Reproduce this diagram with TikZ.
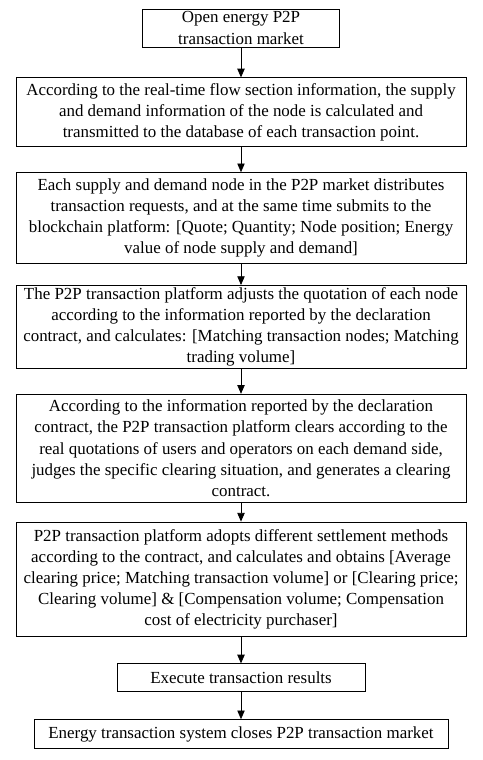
\documentclass[tikz,border=0pt]{standalone}
\usepackage{fontspec}
\setmainfont{Liberation Serif}
\usepackage{tikz}
\usetikzlibrary{arrows.meta,positioning}
\tikzset{flow/.style={-{Triangle[width=5.5pt,length=6.5pt]}, line width=0.6pt}}
\tikzstyle{step_box} = [draw, rectangle, line width=0.6pt, align=center, inner sep=0pt, font=\fontsize{12.7pt}{15.8pt}\selectfont]
\tikzstyle{wide_box} = [step_box, minimum width=337.5pt]

\begin{document}
\begin{tikzpicture}
				\useasboundingbox (0,0) rectangle (361.5pt,-570pt);
				\node[step_box, minimum width=147.75pt, minimum height=28.5pt] (open) at (180.75pt,-21pt) {Open energy P2P\\transaction market};
				\node[wide_box, below=22.5pt of open, minimum height=51.75pt] (info) {According to the real-time flow section information, the supply\\and demand information of the node is calculated and\\transmitted to the database of each transaction point.};
				\node[wide_box, below=18.75pt of info, minimum height=68.25pt] (request) {Each supply and demand node in the P2P market distributes\\transaction requests, and at the same time submits to the\\blockchain platform: [Quote; Quantity; Node position; Energy\\value of node supply and demand]};
				\node[wide_box, below=15.75pt of request, minimum height=62.25pt] (adjust) {The P2P transaction platform adjusts the quotation of each node\\according to the information reported by the declaration\\contract, and calculates: [Matching transaction nodes; Matching\\trading volume]};
				\node[wide_box, below=18.75pt of adjust, minimum height=81pt] (clear) {According to the information reported by the declaration\\contract, the P2P transaction platform clears according to the\\real quotations of users and operators on each demand side,\\judges the specific clearing situation, and generates a clearing\\contract.};
				\node[wide_box, below=14.25pt of clear, minimum height=85.5pt] (settle) {P2P transaction platform adopts different settlement methods\\according to the contract, and calculates and obtains [Average\\clearing price; Matching transaction volume] or [Clearing price;\\Clearing volume] \& [Compensation volume; Compensation\\cost of electricity purchaser]};
				\node[step_box, below=20.25pt of settle, minimum width=186pt, minimum height=21pt] (execute) {Execute transaction results};
				\node[step_box, below=20.25pt of execute, minimum width=310.5pt, minimum height=21.75pt] (close) {Energy transaction system closes P2P transaction market};
				
				% draw lines
				\draw[flow] (open) -- (info);
				\draw[flow] (info) -- (request);
				\draw[flow] (request) -- (adjust);
				\draw[flow] (adjust) -- (clear);
				\draw[flow] (clear) -- (settle);
				\draw[flow] (settle) -- (execute);
				\draw[flow] (execute) -- (close);
			\end{tikzpicture}
\end{document}
